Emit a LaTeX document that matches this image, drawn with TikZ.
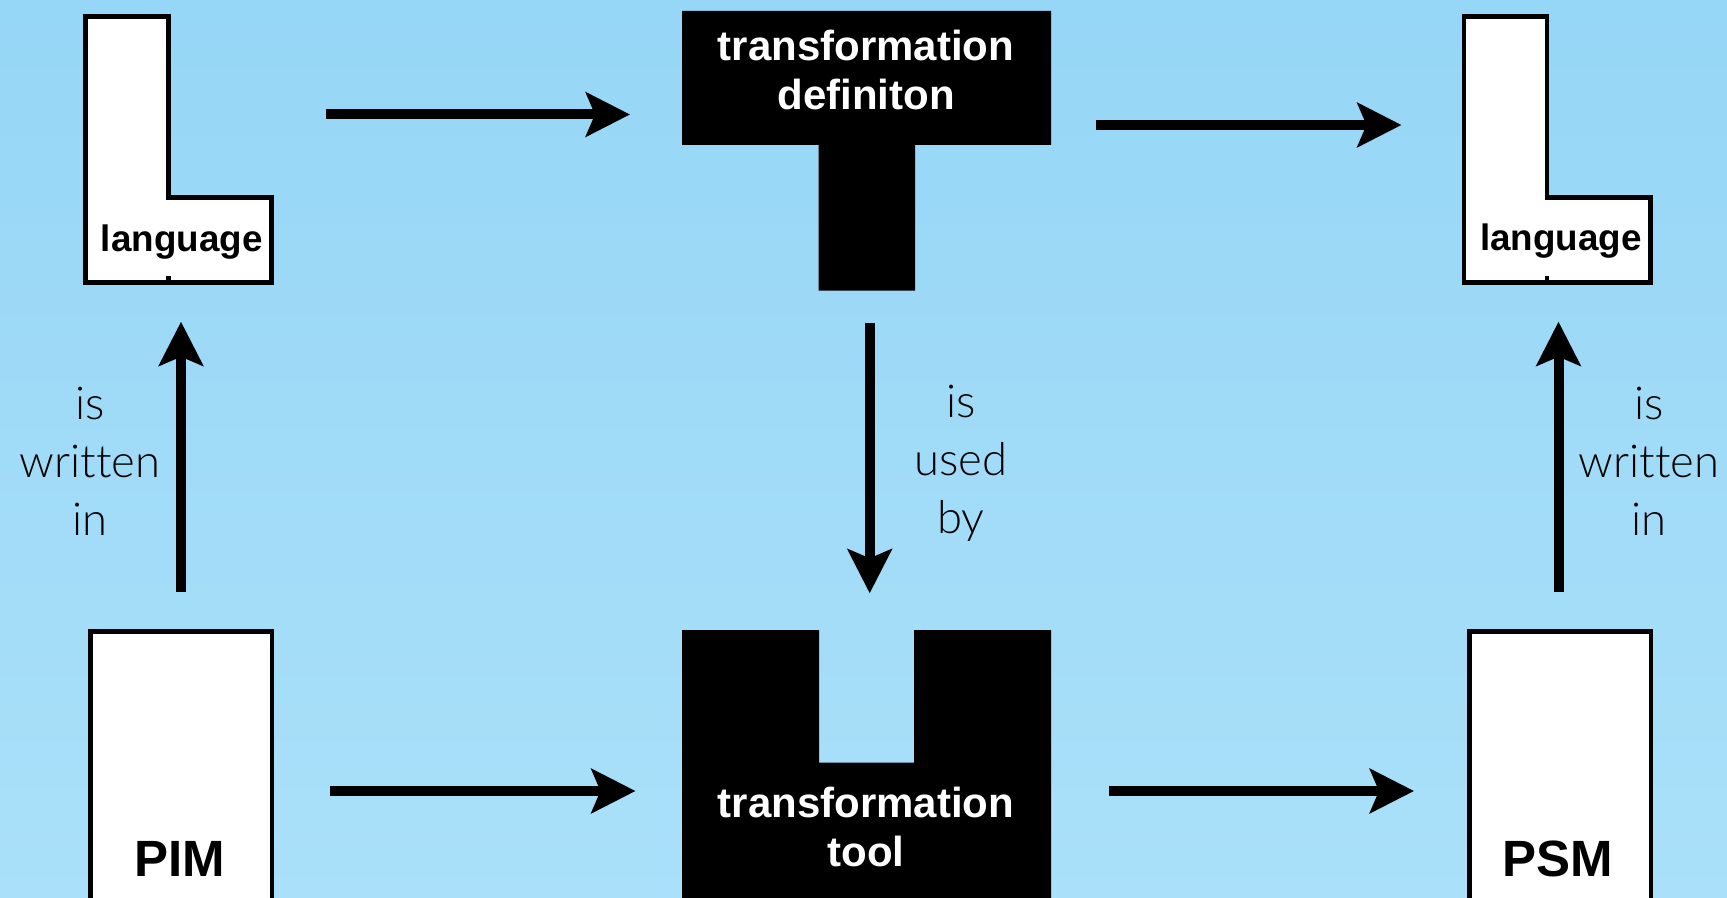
\documentclass[tikz,border=0pt]{standalone}
\usepackage{fontspec}
\setmainfont{Liberation Sans}
\newfontfamily\lightface{Lato Light}[Ligatures=NoCommon]
\usetikzlibrary{arrows.meta}

\definecolor{bgtop}{RGB}{150,214,246}
\definecolor{bgbot}{RGB}{170,224,249}

\tikzset{
  frame/.style={draw=black, fill=white, line width=2.35pt, line join=miter},
  block/.style={fill=black},
  flow/.style={line width=5pt, -{Stealth[length=22pt,width=22pt,inset=4.5pt]}},
  relabel/.style={align=center, anchor=base, inner sep=0pt,
    font=\lightface\fontsize{22.7pt}{29pt}\selectfont},
  tag/.style={anchor=base, inner sep=0pt, font=\bfseries\fontsize{18.4pt}{22pt}\selectfont},
  model/.style={anchor=base, inner sep=0pt, font=\bfseries\fontsize{25.5pt}{30pt}\selectfont},
  tooltext/.style={align=center, anchor=base, inner sep=0pt, text=white,
    font=\bfseries\fontsize{21pt}{24.7pt}\selectfont},
}

\begin{document}
\begin{tikzpicture}[x=0.5pt, y=-0.5pt]
  % canvas and background
  \useasboundingbox (0,0) rectangle (1727,898);
  \clip (0,0) rectangle (1727,898);
  \shade[top color=bgtop, bottom color=bgbot] (0,0) rectangle (1727,898);

  % language shapes (L)
  \draw[frame] (85.5,16.5) -- (168.3,16.5) -- (168.3,197.5) -- (271.7,197.5)
    -- (271.7,282.5) -- (85.5,282.5) -- cycle;
  \draw[line width=2.35pt] (168.3,282.5) -- (168.3,276);
  \node[tag] (langL) at (181.7,251.7) {language};

  \draw[frame] (1464,16.5) -- (1547,16.5) -- (1547,197.3) -- (1650.7,197.3)
    -- (1650.7,282.5) -- (1464,282.5) -- cycle;
  \draw[line width=2.35pt] (1547,282.5) -- (1547,276);
  \node[tag] (langR) at (1560.8,250.7) {language};

  % models
  \draw[frame] (90.7,631.7) rectangle (272,900);
  \node[model] (pim) at (180,876) {PIM};
  \draw[frame] (1469.5,631.5) rectangle (1651,900);
  \node[model] (psm) at (1558,876) {PSM};

  % transformation definition (T); the text anchor is the last baseline
  \fill[block] (682,11) -- (1051,11) -- (1051,145) -- (915,145) -- (915,290.7)
    -- (818.7,290.7) -- (818.7,145) -- (682,145) -- cycle;
  \node[tooltext] (def) at (866,110) {transformation\\definiton};

  % transformation tool (socket)
  \fill[block] (682,630) -- (819,630) -- (819,762.7) -- (914,762.7) -- (914,630)
    -- (1051,630) -- (1051,905) -- (682,905) -- cycle;
  \node[tooltext] (tool) at (866,866.7) {transformation\\tool};

  % arrow end points
  \coordinate (a1s) at (326,114.5);  \coordinate (a1e) at (630,114.5);
  \coordinate (a2s) at (1096,125);   \coordinate (a2e) at (1401.5,125);
  \coordinate (a3s) at (330,791);    \coordinate (a3e) at (635.5,791);
  \coordinate (a4s) at (1109,791);   \coordinate (a4e) at (1414,791);
  \coordinate (v1s) at (181,591.7);  \coordinate (v1e) at (181,321.7);
  \coordinate (v2s) at (869.7,323.3);\coordinate (v2e) at (869.7,593.3);
  \coordinate (v3s) at (1558.5,591.7);\coordinate (v3e) at (1558.5,321.7);

  \draw[flow] (a1s) -- (a1e);
  \draw[flow] (a2s) -- (a2e);
  \draw[flow] (a3s) -- (a3e);
  \draw[flow] (a4s) -- (a4e);
  \draw[flow] (v1s) -- (v1e);
  \draw[flow] (v2s) -- (v2e);
  \draw[flow] (v3s) -- (v3e);

  % relation labels (anchored at the baseline of the last line)
  \node[relabel] (lblL) at (90,535) {is\\written\\in};
  \node[relabel] (lblM) at (960.8,533.4) {is\\used\\by};
  \node[relabel] (lblR) at (1648.8,535) {is\\written\\in};
\end{tikzpicture}
\end{document}
